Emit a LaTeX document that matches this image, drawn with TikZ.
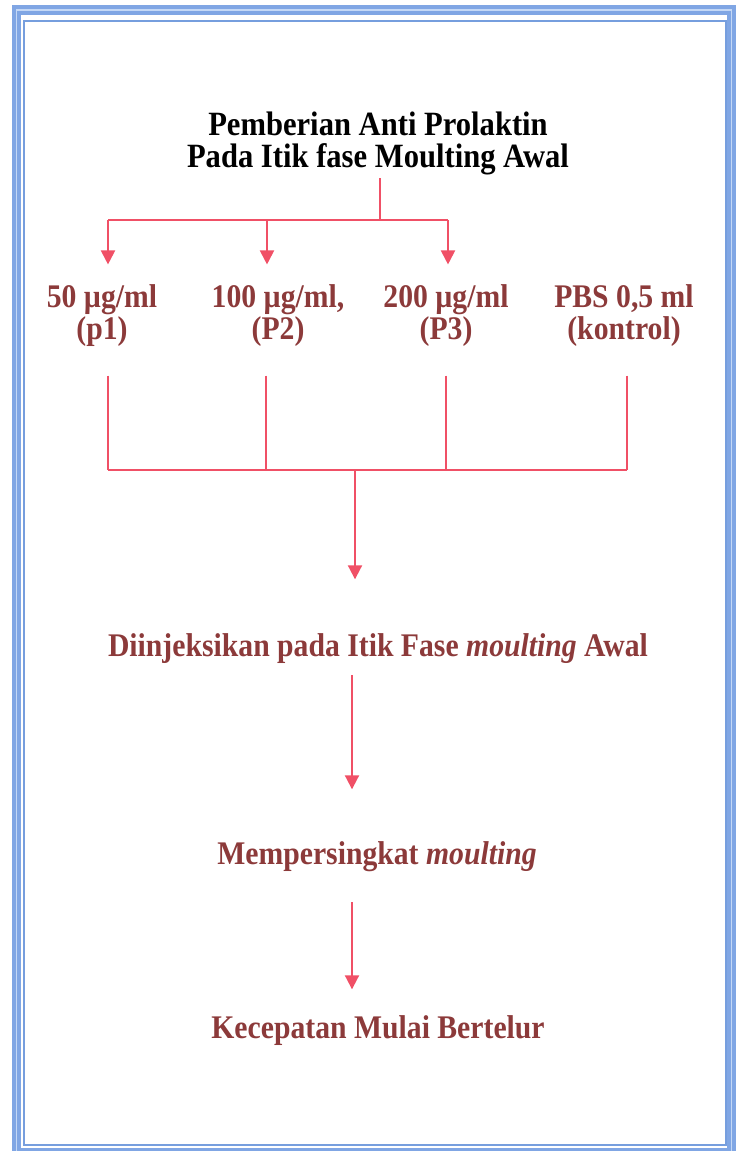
\documentclass[tikz,border=0pt]{standalone}
\usepackage{fontspec}
\setmainfont{Liberation Serif}[FakeStretch=0.9]
\usetikzlibrary{arrows.meta}
\definecolor{lblc}{RGB}{140,58,58}
\definecolor{arrc}{RGB}{240,80,102}
\definecolor{bandc}{RGB}{128,166,228}
\definecolor{bandlight}{RGB}{196,216,246}
\definecolor{thinc}{RGB}{118,158,222}
\begin{document}
\begin{tikzpicture}[x=1pt,y=-1pt,
  titlebox/.style={font=\fontsize{34}{32}\selectfont\bfseries, align=center, inner sep=0pt},
  lblbox/.style={font=\fontsize{33}{32}\selectfont\bfseries, text=lblc, align=center, inner sep=0pt},
  conn/.style={draw=arrc, line width=2pt},
  arrowc/.style={conn, -{Triangle[width=14pt,length=14pt]}},
]
\useasboundingbox (0,0) rectangle (738,1151);
% frame
\draw[bandc, line width=9.5pt] (16.5,10) rectangle (731.5,1153);
\draw[bandlight, line width=1.6pt] (16.5,10) rectangle (731.5,1153);
\draw[thinc, line width=2pt] (24,21) rectangle (725.5,1144.5);

% title
\node[titlebox] (t) at (378,143) {Pemberian Anti Prolaktin\\Pada Itik fase Moulting Awal};

% labels
\node[lblbox] (l1) at (102,316) {50 µg/ml\\(p1)};
\node[lblbox] (l2) at (278,316) {100 µg/ml,\\(P2)};
\node[lblbox] (l3) at (446,316) {200 µg/ml\\(P3)};
\node[lblbox] (l4) at (624,316) {PBS 0,5 ml\\(kontrol)};

\node[lblbox, anchor=base] (d) at (378,656) {Diinjeksikan pada Itik Fase \textit{moulting} Awal};
\node[lblbox, anchor=base] (m) at (377,864) {Mempersingkat \textit{moulting}};
\node[lblbox, anchor=base] (k) at (378,1038) {Kecepatan Mulai Bertelur};

% junction coordinates
\coordinate (a0) at (380,178);
\coordinate (a1) at (380,220);
\coordinate (b1) at (108,220);
\coordinate (b2) at (267,220);
\coordinate (b3) at (448,220);
\coordinate (e1) at (108,470);
\coordinate (e2) at (266,470);
\coordinate (e3) at (446,470);
\coordinate (e4) at (627,470);
\coordinate (f0) at (355,470);
\coordinate (g0) at (352,675);
\coordinate (h0) at (352,902);

% top split
\draw[conn] (a0) -- (a1);
\draw[conn] (b1) -- (b3);
\draw[arrowc, shorten >=20.4pt] (b1) -- (b1 |- l1.north);
\draw[arrowc, shorten >=20.4pt] (b2) -- (b2 |- l2.north);
\draw[arrowc, shorten >=20.4pt] (b3) -- (b3 |- l3.north);

% bottom merge
\draw[conn, shorten <=28.4pt] (e1 |- l1.south) -- (e1);
\draw[conn, shorten <=28.4pt] (e2 |- l2.south) -- (e2);
\draw[conn, shorten <=28.4pt] (e3 |- l3.south) -- (e3);
\draw[conn, shorten <=28.4pt] (e4 |- l4.south) -- (e4);
\draw[conn] (e1) -- (e4);
\draw[arrowc, shorten >=53.6pt] (f0) -- (f0 |- d.north);

\draw[arrowc, shorten >=51.6pt] (g0) -- (g0 |- m.north);
\draw[arrowc, shorten >=25.6pt] (h0) -- (h0 |- k.north);
\end{tikzpicture}
\end{document}
